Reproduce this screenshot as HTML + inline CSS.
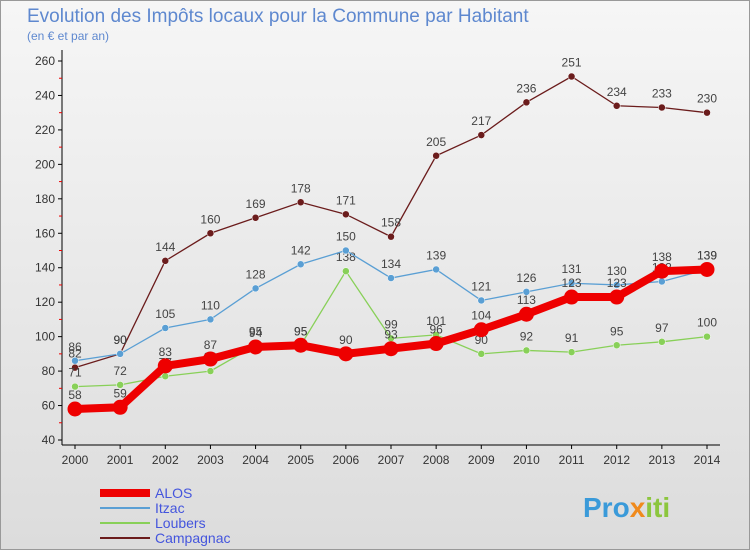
<!DOCTYPE html>
<html><head><meta charset="utf-8"><style>
body{margin:0;width:750px;height:550px;overflow:hidden;font-family:"Liberation Sans",sans-serif}
#wrap{position:relative;width:748px;height:548px;border:1px solid #999;background:linear-gradient(180deg,#f6f6f6 0%,#dcdcdc 100%)}
</style></head><body>
<div id="wrap">
<svg id="chart" width="750" height="550" style="position:absolute;left:-1px;top:-1px">
<text x="27" y="22" font-size="19" fill="#5e88cf">Evolution des Impôts locaux pour la Commune par Habitant</text>
<text x="27" y="40" font-size="12" fill="#5e88cf">(en € et par an)</text>
<g id="axes"></g><g id="series"></g><g id="legend"></g>
<text x="583" y="517" font-size="28" font-weight="bold" fill="#3a9ad9">Pro<tspan fill="#f08a1c">x</tspan><tspan fill="#8cc63e">iti</tspan></text>
</svg></div>
<script>
const years=[2000,2001,2002,2003,2004,2005,2006,2007,2008,2009,2010,2011,2012,2013,2014];
const yTicks=[40,60,80,100,120,140,160,180,200,220,240,260];
const alos=[58,59,83,87,94,95,90,93,96,104,113,123,123,138,139];
const itzac=[86,90,105,110,128,142,150,134,139,121,126,131,130,132,139];
const loubers=[71,72,77,80,95,95,138,99,101,90,92,91,95,97,100];
const campagnac=[82,90,144,160,169,178,171,158,205,217,236,251,234,233,230];
const NS="http://www.w3.org/2000/svg";
function X(i){return 75+i*(707-75)/(years.length-1);}
function Y(v){return 440-(v-40)*(440-61)/220;}
function mk(t,a,p){const e=document.createElementNS(NS,t);for(const k in a)e.setAttribute(k,a[k]);p.appendChild(e);return e;}
const ax=document.getElementById('axes');
let l=mk('line',{x1:62,y1:50,x2:62,y2:445,stroke:'#000'},ax);


l=mk('line',{x1:62,y1:445,x2:720,y2:445,stroke:'#000'},ax);


yTicks.forEach((v,i)=>{
  mk('line',{x1:58,y1:Y(v),x2:62,y2:Y(v),stroke:'#000'},ax);
  if(i<yTicks.length-1) mk('line',{x1:59,y1:Y(v+10),x2:62,y2:Y(v+10),stroke:'#e00'},ax);
  const t=mk('text',{x:55,y:Y(v)+4,'font-size':12,'text-anchor':'end',fill:'#333'},ax);
  t.textContent=v;
  
  
});
years.forEach((y,i)=>{
  mk('line',{x1:X(i),y1:445,x2:X(i),y2:449,stroke:'#000'},ax);
  const t=mk('text',{x:X(i),y:464,'font-size':12,'text-anchor':'middle',fill:'#333'},ax);
  t.textContent=y;
  
  
});
const S=document.getElementById('series');
const defs=[
 {n:'campagnac',d:campagnac,c:'#6b1c1c',w:1.3,r:3.5},
 {n:'loubers',d:loubers,c:'#88d058',w:1.3,r:3.5},
 {n:'itzac',d:itzac,c:'#5a9fd4',w:1.3,r:3.5},
 {n:'alos',d:alos,c:'#ee0000',w:8,r:7}];
defs.forEach(s=>{
  const g=mk('g',{},S);
  
  
  const p=mk('polyline',{points:s.d.map((v,i)=>X(i)+','+Y(v)).join(' '),fill:'none',stroke:s.c,'stroke-width':s.w},g);
  
  
  s.d.forEach((v,i)=>{
    const c=mk('circle',{cx:X(i),cy:Y(v),r:s.r,fill:s.c,stroke:s.n==='alos'?'#e00':'#fff','stroke-width':s.n==='alos'?1:0.5},g);
    
    
    const t=mk('text',{x:X(i),y:Y(v)-10,'font-size':12,'text-anchor':'middle',fill:'#444'},g);
    t.textContent=v;
    
    
  });
});
const L=document.getElementById('legend');
const leg=[['ALOS','#ee0000',8],['Itzac','#5a9fd4',2],['Loubers','#88d058',2],['Campagnac','#6b1c1c',2]];
leg.forEach((e,i)=>{
  const y=493+i*15;
  const ln=mk('line',{x1:100,y1:y,x2:150,y2:y,stroke:e[1],'stroke-width':e[2]},L);
  
  
  const t=mk('text',{x:155,y:y+5,'font-size':14,fill:'#4455dd'},L);
  t.textContent=e[0];
  
  
});
</script>
</body></html>
